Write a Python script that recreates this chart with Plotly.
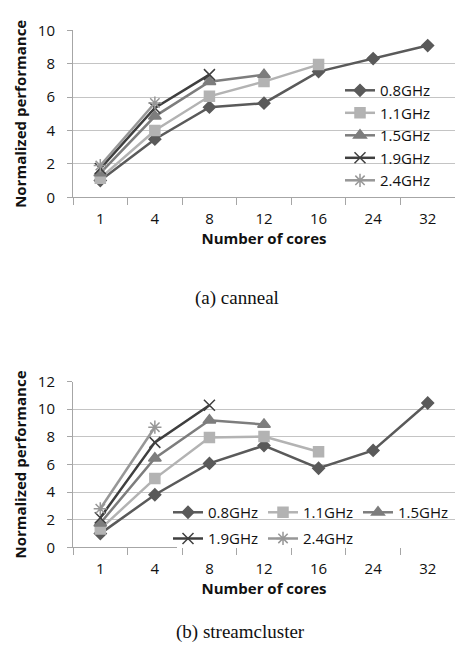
import plotly.graph_objects as go

cores = ["1", "4", "8", "12", "16", "24", "32"]
freqs = ["0.8GHz", "1.1GHz", "1.5GHz", "1.9GHz", "2.4GHz"]

canneal = {
    "0.8GHz": [1.0, 3.48, 5.4, 5.64, 7.53, 8.31, 9.09],
    "1.1GHz": [1.14, 4.0, 6.05, 6.93, 7.95],
    "1.5GHz": [1.45, 4.85, 6.92, 7.35],
    "1.9GHz": [1.72, 5.35, 7.35],
    "2.4GHz": [1.9, 5.65],
}
streamcluster = {
    "0.8GHz": [1.0, 3.81, 6.08, 7.37, 5.73, 7.02, 10.45],
    "1.1GHz": [1.33, 4.98, 7.95, 8.02, 6.92],
    "1.5GHz": [1.75, 6.45, 9.2, 8.9],
    "1.9GHz": [2.15, 7.6, 10.29],
    "2.4GHz": [2.8, 8.7],
}

colors = {"0.8GHz": "#5a5a5a", "1.1GHz": "#b3b3b3", "1.5GHz": "#7d7d7d",
          "1.9GHz": "#3f3f3f", "2.4GHz": "#979797"}
symbols = {"0.8GHz": "diamond", "1.1GHz": "square", "1.5GHz": "triangle-up",
           "1.9GHz": "x-thin-open", "2.4GHz": "asterisk-open"}
msizes = {"0.8GHz": 9, "1.1GHz": 10, "1.5GHz": 11, "1.9GHz": 11, "2.4GHz": 11}

FONT = "Open Sans"
W, H = 455, 668

fig = go.Figure()

def add_set(data, xa, ya, legend_of):
    for f in freqs:
        vals = data[f]
        fig.add_trace(go.Scatter(
            x=cores[:len(vals)], y=vals, name=f, mode="lines+markers",
            xaxis=xa, yaxis=ya, legend=legend_of(f),
            line=dict(color=colors[f], width=2.5),
            marker=dict(symbol=symbols[f], size=msizes[f], color=colors[f],
                        line=dict(color=colors[f], width=1.5)),
        ))

add_set(canneal, "x", "y", lambda f: "legend")
add_set(streamcluster, "x2", "y2",
        lambda f: "legend2" if f in ("0.8GHz", "1.1GHz", "1.5GHz") else "legend3")

def py(px):
    return (H - px) / H

x0 = 73 / W
axis_common = dict(
    type="category", range=[-0.5, 6.5], tickson="boundaries",
    showline=True, linecolor="#a6a6a6", linewidth=1,
    ticks="outside", ticklen=7, tickcolor="#a6a6a6",
    showgrid=False, zeroline=False, ticklabelstandoff=8,
    tickfont=dict(family=FONT, size=15, color="#111"),
    title=dict(text="<b>Number of cores</b>", standoff=2,
               font=dict(family=FONT, size=15, color="#111")),
)
yaxis_common = dict(
    showline=True, linecolor="#a6a6a6", linewidth=1,
    ticks="outside", ticklen=5, tickcolor="#a6a6a6",
    showgrid=True, gridcolor="#c4c4c4", gridwidth=1, zeroline=False,
    ticklabelstandoff=9,
    tickfont=dict(family=FONT, size=15, color="#111"),
    title=dict(text="<b>Normalized performance</b>", standoff=7,
               font=dict(family=FONT, size=15, color="#111")),
)

leg_common = dict(bgcolor="rgba(255,255,255,0)", borderwidth=0,
                  font=dict(family=FONT, size=15, color="#111"),
                  itemclick=False)

fig.update_layout(
    width=W, height=H, margin=dict(l=0, r=0, t=0, b=0),
    paper_bgcolor="white", plot_bgcolor="white",
    xaxis=dict(domain=[x0, 1], anchor="y", **axis_common),
    yaxis=dict(domain=[py(192), py(20)], anchor="x", range=[0, 10], dtick=2, **yaxis_common),
    xaxis2=dict(domain=[x0, 1], anchor="y2", **axis_common),
    yaxis2=dict(domain=[py(553), py(382)], anchor="x2", range=[0, 12], dtick=2, **yaxis_common),
    legend=dict(x=340 / W, y=py(65), xanchor="left", yanchor="top",
                orientation="v", entrywidth=55, **leg_common),
    legend2=dict(x=168 / W, y=py(500), xanchor="left", yanchor="top",
                 orientation="h", entrywidth=50, **leg_common),
    legend3=dict(x=168 / W, y=py(527), xanchor="left", yanchor="top",
                 orientation="h", entrywidth=50, **leg_common),
    shapes=[
        dict(type="rect", xref="paper", yref="paper", layer="between",
             x0=317 / W, x1=443 / W, y0=py(189), y1=py(78),
             fillcolor="white", line=dict(width=0)),
        dict(type="rect", xref="paper", yref="paper", layer="between",
             x0=177 / W, x1=1, y0=py(553), y1=py(498),
             fillcolor="white", line=dict(width=0)),
        dict(type="rect", xref="paper", yref="paper", layer="above",
             x0=177 / W, x1=1, y0=py(553.7), y1=py(540),
             fillcolor="white", line=dict(width=0)),
    ],
    annotations=[
        dict(text="(a) canneal", x=237 / W, y=py(296), xref="paper", yref="paper",
             showarrow=False, font=dict(family="Liberation Serif", size=19, color="#111")),
        dict(text="(b) streamcluster", x=240 / W, y=py(654), xref="paper", yref="paper",
             showarrow=False, font=dict(family="Liberation Serif", size=19, color="#111")),
    ],
)

fig.write_html("out.html")
